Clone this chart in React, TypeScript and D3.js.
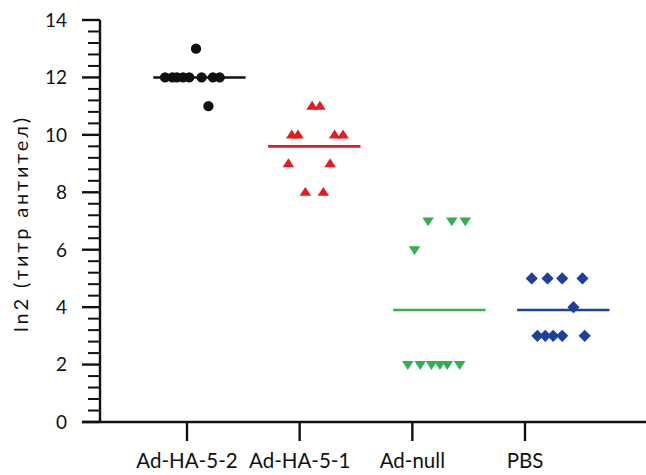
import * as d3 from 'd3'

// group labels on the x axis (axis positions 0..3)
const groups = ['Ad-HA-5-2', 'Ad-HA-5-1', 'Ad-null', 'PBS']
const groupColors = ['#111111', '#e51b20', '#2fb24a', '#1e3f9c']
const groupShapes = ['circle', 'triangle', 'triangleDown', 'diamond']
// where each group's mean bar sits, in axis units
const groupCenters = [0.11, 1.13, 2.24, 3.34]

// [x in axis units, ln2 titre]
const adHA52 = [
  [0.08, 13],
  [-0.195, 12], [-0.13, 12], [-0.09, 12], [-0.035, 12], [0.02, 12], [0.13, 12], [0.23, 12], [0.29, 12],
  [0.19, 11],
]
const adHA51 = [
  [1.11, 11], [1.18, 11],
  [0.93, 10], [0.985, 10], [1.31, 10], [1.385, 10],
  [0.9, 9], [1.27, 9],
  [1.05, 8], [1.21, 8],
]
const adNull = [
  [2.14, 7], [2.35, 7], [2.47, 7],
  [2.02, 6],
  [1.96, 2], [2.07, 2], [2.17, 2], [2.245, 2], [2.31, 2], [2.42, 2],
]
const pbs = [
  [3.06, 5], [3.2, 5], [3.33, 5], [3.51, 5],
  [3.43, 4],
  [3.11, 3], [3.18, 3], [3.25, 3], [3.33, 3], [3.53, 3],
]
const series = [adHA52, adHA51, adNull, pbs]

const yTicks = [0, 2, 4, 6, 8, 10, 12, 14]
const yLabel = 'ln2 (титр антител)'

const W = 646
const H = 475
const FONT = 'Lato, "Open Sans", sans-serif'

function marker(shape: string, s: number) {
  if (shape === 'circle') return d3.symbol(d3.symbolCircle, s * s * 0.75)()
  if (shape === 'diamond') {
    const r = s * 0.58
    return `M0,${-r}L${r},0L0,${r}L${-r},0Z`
  }
  const h = s * 0.85
  const w = s * 0.55
  if (shape === 'triangle') return `M0,${-h * 0.6}L${w},${h * 0.4}L${-w},${h * 0.4}Z`
  return `M0,${h * 0.6}L${w},${-h * 0.4}L${-w},${-h * 0.4}Z`
}

export default function App() {
  const x = d3.scaleLinear().domain([0, 3]).range([187, 525])
  const y = d3.scaleLinear().domain([0, 14]).range([422, 20])
  const axisX = 100
  const minor = d3.range(0, 36).map((i) => i * 0.4).filter((v) => Math.abs(v / 2 - Math.round(v / 2)) > 1e-6)
  const halfBar = 0.41

  return (
    <div style={{ position: 'fixed', left: 0, top: 0, background: '#fff' }}>
      <svg width={W} height={H} style={{ display: 'block' }}>
        <rect width={W} height={H} fill="#fff" />

        {/* y axis */}
        <g stroke="#111" strokeWidth={2.4}>
          <line x1={axisX} x2={axisX} y1={y(14)} y2={y(0)} />
          {yTicks.map((t) => (
            <line key={t} x1={82} x2={axisX} y1={y(t)} y2={y(t)} />
          ))}
          {minor.map((t) => (
            <line key={'m' + t} x1={88} x2={axisX} y1={y(t)} y2={y(t)} strokeWidth={2} />
          ))}
        </g>
        <g fontFamily={FONT} fontSize={19} fill="#111" textAnchor="end">
          {yTicks.map((t) => (
            <text key={t} x={67} y={y(t)} dy="0.36em">
              {t}
            </text>
          ))}
        </g>
        <text
          transform={`translate(28,${(y(0) + y(14)) / 2 + 4}) rotate(-90)`}
          textAnchor="middle"
          fontFamily={FONT}
          fontSize={20}
          textLength={214}
          lengthAdjust="spacing"
          fill="#111"
        >
          {yLabel}
        </text>

        {/* x axis */}
        <g stroke="#111" strokeWidth={2.4}>
          <line x1={82} x2={W} y1={y(0)} y2={y(0)} />
          {groups.map((g, i) => (
            <line key={g} x1={x(i)} x2={x(i)} y1={y(0)} y2={y(0) + 19} />
          ))}
        </g>
        <g fontFamily={FONT} fontSize={20.5} fill="#111" textAnchor="middle">
          {groups.map((g, i) => (
            <text key={g} x={x(i)} y={468}>
              {g}
            </text>
          ))}
        </g>

        {/* points and mean bars */}
        {series.map((pts, gi) => {
          const mean = d3.mean(pts, (d) => d[1]) as number
          const c = groupColors[gi]
          return (
            <g key={gi}>
              <line
                x1={x(groupCenters[gi] - halfBar)}
                x2={x(groupCenters[gi] + halfBar)}
                y1={y(mean)}
                y2={y(mean)}
                stroke={c}
                strokeWidth={2.6}
              />
              {pts.map((p, pi) => (
                <path
                  key={pi}
                  d={marker(groupShapes[gi], 10.5) || ''}
                  transform={`translate(${x(p[0])},${y(p[1])})`}
                  fill={c}
                />
              ))}
            </g>
          )
        })}
      </svg>
    </div>
  )
}
